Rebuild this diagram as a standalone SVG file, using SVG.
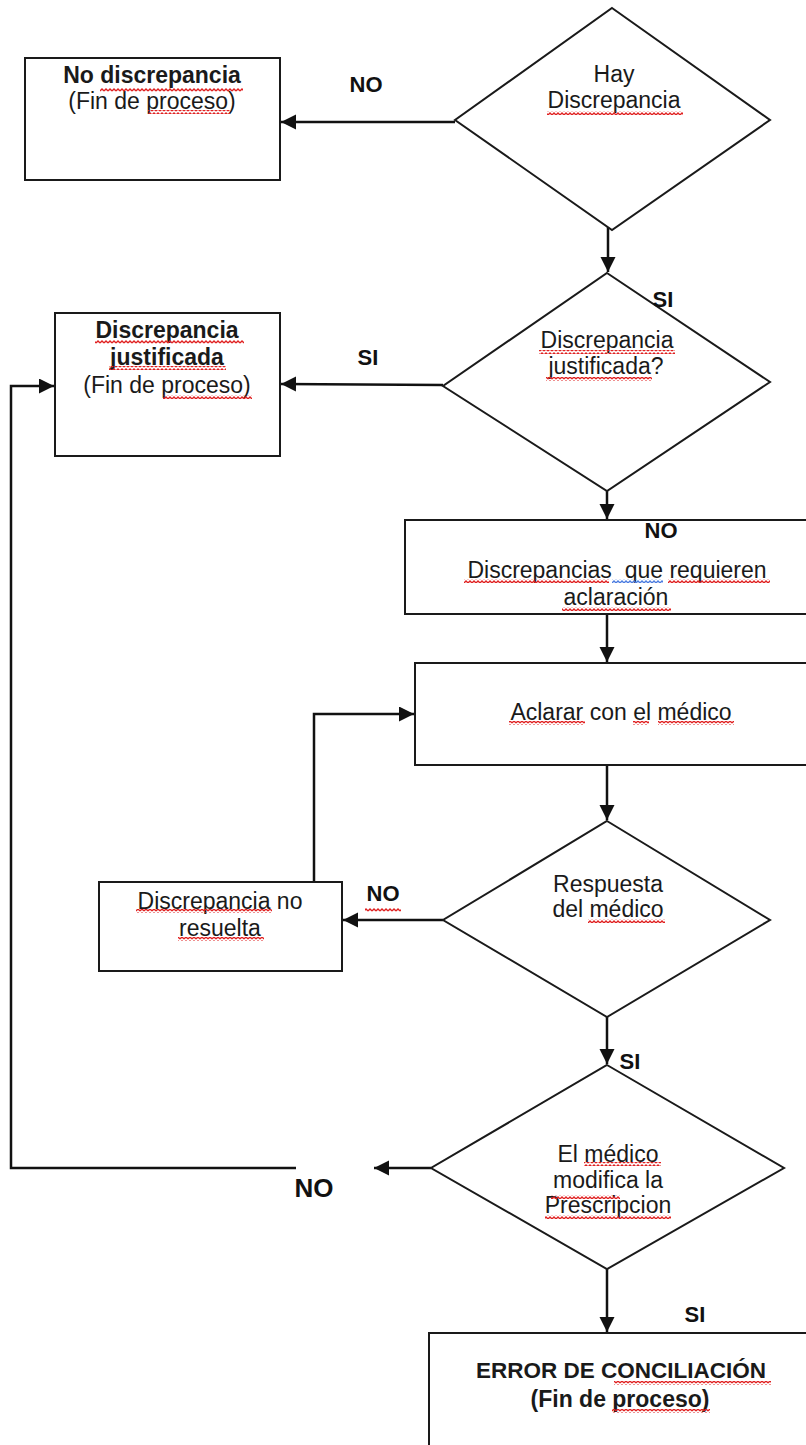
<svg xmlns="http://www.w3.org/2000/svg" width="806" height="1445" viewBox="0 0 806 1445">
<style>
.shape{fill:#fff;stroke:#1a1a1a;stroke-width:2}
.t{font-family:"Liberation Sans",Arial,sans-serif;font-size:23px;fill:#1a1a1a;text-anchor:middle}
.b{font-weight:bold}
.lbl{font-family:"Liberation Sans",Arial,sans-serif;font-size:22px;font-weight:bold;fill:#111;text-anchor:middle}
.c{fill:none;stroke:#111;stroke-width:2.5}
.sq{fill:url(#sqr)}
.sqb{fill:url(#sqb)}
</style>
<defs>
<marker id="ah" markerUnits="userSpaceOnUse" markerWidth="16" markerHeight="16" refX="15" refY="7.5" orient="auto">
<path d="M0,0 L15,7.5 L0,15 z" fill="#111"/>
</marker>
<pattern id="sqr" patternUnits="userSpaceOnUse" width="4" height="4">
<path d="M0,3 L2,1 L4,3" fill="none" stroke="#e02020" stroke-width="1.3"/>
</pattern>
<pattern id="sqb" patternUnits="userSpaceOnUse" width="4" height="4">
<path d="M0,3 L2,1 L4,3" fill="none" stroke="#4a7be0" stroke-width="1.3"/>
</pattern>
</defs>

<g id="connectors">
<line class="c" x1="455" y1="122" x2="281" y2="122" marker-end="url(#ah)"/>
<line class="c" x1="608" y1="218" x2="608" y2="272" marker-end="url(#ah)"/>
<line class="c" x1="443" y1="385" x2="281" y2="384" marker-end="url(#ah)"/>
<line class="c" x1="607" y1="491" x2="607" y2="519" marker-end="url(#ah)"/>
<line class="c" x1="607" y1="614" x2="607" y2="662" marker-end="url(#ah)"/>
<line class="c" x1="607" y1="765" x2="607" y2="820" marker-end="url(#ah)"/>
<line class="c" x1="443" y1="920" x2="343" y2="920" marker-end="url(#ah)"/>
<polyline class="c" points="314,882 314,714 414,714" marker-end="url(#ah)"/>
<line class="c" x1="607" y1="1017" x2="607" y2="1064" marker-end="url(#ah)"/>
<line class="c" x1="431" y1="1168" x2="374" y2="1168" marker-end="url(#ah)"/>
<polyline class="c" points="296,1168 11,1168 11,386 54,386" marker-end="url(#ah)"/>
<line class="c" x1="607" y1="1269" x2="607" y2="1332" marker-end="url(#ah)"/>
</g>

<g id="hay-discrepancia">
<polygon class="shape" points="612,8 770,120 612,230 455,120"/>
<text class="t" x="614" y="82">Hay</text>
<text class="t" x="614" y="108">Discrepancia</text>
<rect class="sq" x="547" y="111" width="136" height="4"/>
</g>

<g id="no-discrepancia">
<rect class="shape" x="25" y="58" width="255" height="122"/>
<text class="t b" x="152" y="83">No discrepancia</text>
<text class="t" x="152" y="109">(Fin de proceso)</text>
<rect class="sq" x="100" y="88" width="143" height="4"/>
<rect class="sq" x="148" y="110" width="82" height="4"/>
</g>

<g id="discrepancia-justificada-q">
<polygon class="shape" points="607,273 770,382 607,491 443,386"/>
<text class="t" x="607" y="348">Discrepancia</text>
<text class="t" x="606" y="374">justificada?</text>
<rect class="sq" x="539" y="350" width="136" height="4"/>
<rect class="sq" x="546" y="377" width="106" height="4"/>
</g>

<g id="discrepancia-justificada">
<rect class="shape" x="55" y="313" width="225" height="143"/>
<text class="t b" x="167" y="338">Discrepancia</text>
<text class="t b" x="167" y="365">justificada</text>
<text class="t" x="167" y="393">(Fin de proceso)</text>
<rect class="sq" x="95" y="340" width="149" height="4"/>
<rect class="sq" x="109" y="366" width="117" height="4"/>
<rect class="sq" x="163" y="395" width="89" height="4"/>
</g>

<g id="discrepancias-aclaracion">
<rect class="shape" x="405" y="520" width="410" height="94"/>
<text class="t" x="617" y="578" style="white-space:pre">Discrepancias  que requieren</text>
<text class="t" x="616" y="605">aclaración</text>
<rect class="sq" x="464" y="579" width="145" height="4"/>
<rect class="sqb" x="612" y="579" width="51" height="4"/>
<rect class="sq" x="668" y="579" width="102" height="4"/>
<rect class="sq" x="562" y="607" width="109" height="4"/>
</g>

<g id="aclarar-medico">
<rect class="shape" x="415" y="663" width="400" height="102"/>
<text class="t" x="621" y="720">Aclarar con el médico</text>
<rect class="sq" x="509" y="721" width="76" height="4"/>
<rect class="sq" x="633" y="721" width="16" height="4"/>
<rect class="sq" x="658" y="721" width="76" height="4"/>
</g>

<g id="respuesta-medico">
<polygon class="shape" points="607,821 770,920 607,1017 443,920"/>
<text class="t" x="608" y="892">Respuesta</text>
<text class="t" x="608" y="917">del médico</text>
<rect class="sq" x="588" y="919" width="77" height="4"/>
</g>

<g id="discrepancia-no-resuelta">
<rect class="shape" x="99" y="882" width="243" height="89"/>
<text class="t" x="220" y="909">Discrepancia no</text>
<text class="t" x="220" y="936">resuelta</text>
<rect class="sq" x="136" y="909" width="136" height="4"/>
<rect class="sq" x="178" y="937" width="86" height="4"/>
</g>

<g id="medico-modifica">
<polygon class="shape" points="607,1065 784,1168 607,1269 431,1168"/>
<text class="t" x="608" y="1162">El médico</text>
<text class="t" x="608" y="1188">modifica la</text>
<text class="t" x="608" y="1213">Prescripcion</text>
<rect class="sq" x="584" y="1162" width="77" height="4"/>
<rect class="sq" x="551" y="1195" width="69" height="4"/>
<rect class="sq" x="545" y="1215" width="126" height="4"/>
</g>

<g id="error-conciliacion">
<rect class="shape" x="429" y="1333" width="400" height="150"/>
<text class="t b" x="621" y="1378" style="font-size:22.5px">ERROR DE CONCILIACIÓN</text>
<text class="t b" x="620" y="1407">(Fin de proceso)</text>
<rect class="sq" x="614" y="1381" width="157" height="4"/>
<rect class="sq" x="612" y="1409" width="98" height="4"/>
</g>

<g id="labels">
<text class="lbl" x="366" y="92">NO</text>
<text class="lbl" x="663" y="307">SI</text>
<text class="lbl" x="368" y="365">SI</text>
<text class="lbl" x="661" y="538">NO</text>
<text class="lbl" x="383" y="901">NO</text>
<rect class="sq" x="365" y="908" width="36" height="4"/>
<text class="lbl" x="630" y="1069">SI</text>
<text class="lbl" x="314" y="1197" style="font-size:26px">NO</text>
<text class="lbl" x="695" y="1322">SI</text>
</g>
</svg>
